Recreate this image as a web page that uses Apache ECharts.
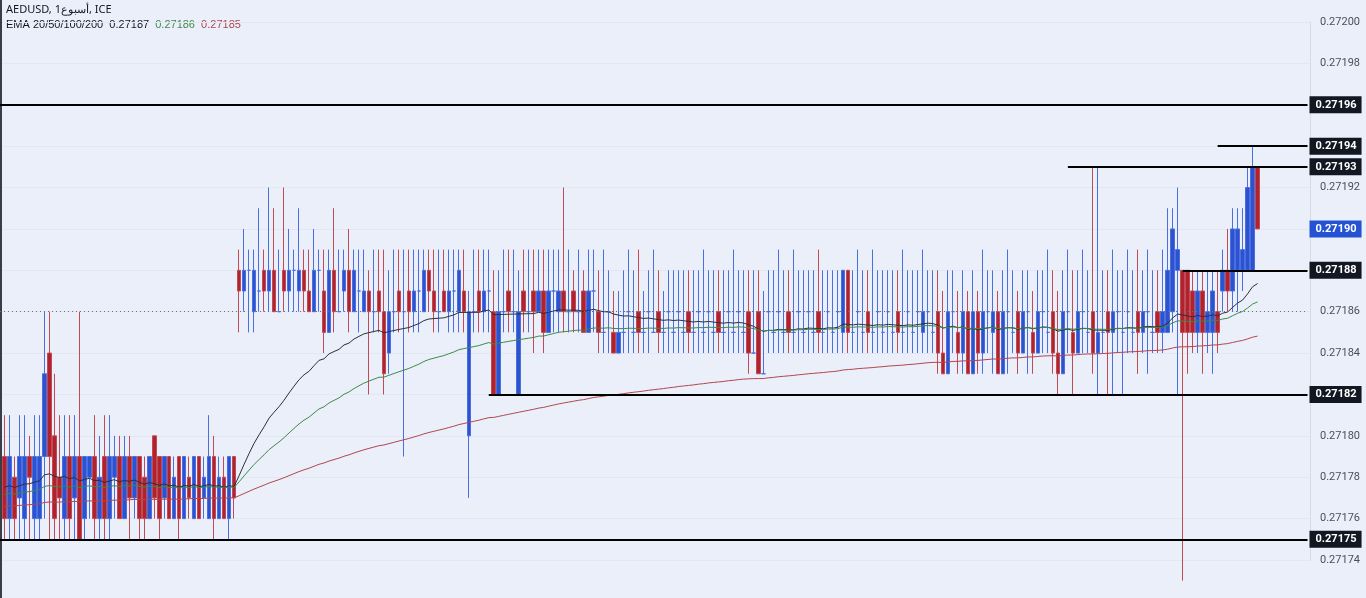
<!DOCTYPE html>
<html><head><meta charset="utf-8">
<script src="https://cdn.jsdelivr.net/npm/echarts@6/dist/echarts.min.js"></script>
<style>html,body{margin:0;padding:0;background:#eaeff9}#c{width:1366px;height:598px}</style>
</head><body><div id="c"></div>
<script>
// candles as [open, close, low, high] in units of 0.00001 above 0.27170
const candleOffsets = [
[9,6,5,11],[6,9,5,11],[8,6,5,9],[7,9,5,11],[6,9,5,11],[9,8,5,10],[6,9,5,11],[6,9,5,11],[9,13,6,16],[14,9,5,16],
[10,6,5,13],[8,7,5,11],[6,9,5,11],[9,6,5,11],[7,9,5,11],[9,5,5,16],[6,9,5,9],[8,9,6,9],[9,6,5,11],[6,8,5,10],
[9,6,5,11],[6,9,5,11],[8,9,6,10],[9,6,6,10],[6,9,6,10],[9,7,5,10],[7,9,6,9],[9,6,5,9],[8,6,5,9],[6,9,6,9],
[10,7,6,10],[9,6,5,9],[7,9,6,9],[9,6,6,9],[6,8,6,9],[9,6,5,9],[6,9,6,9],[8,7,6,9],[6,9,6,9],[9,6,6,9],
[7,8,6,9],[6,9,6,11],[9,6,5,10],[6,8,6,9],[8,6,6,9],[6,9,5,9],[9,7,6,9],
[18,17,15,19],[17,18,16,20],[18,18,15,19],[16,18,15,19],[17,17,16,21],[18,17,16,19],[17,18,16,22],[18,16,16,21],[16,16,16,19],[18,17,16,22],
[17,18,16,20],[18,18,16,19],[17,18,16,21],[18,17,16,19],[17,16,16,19],[16,18,16,20],[18,18,16,19],[17,15,14,19],[15,18,15,19],[18,16,15,21],
[16,16,16,19],[17,18,16,19],[18,16,15,20],[16,18,16,19],[17,17,15,19],[16,17,16,19],[17,16,12,18],[16,16,15,19],[17,16,15,19],[16,13,12,19],
[14,16,13,18],[16,16,15,19],[17,16,15,19],[16,16,9,19],[17,16,15,19],[16,17,15,19],[17,17,15,19],[16,18,16,19],[18,17,16,19],[17,16,15,19],
[16,16,15,19],[17,16,16,19],[16,17,15,19],[17,17,15,19],[16,18,15,19],[17,16,15,19],[10,16,7,17],
[16,16,15,19],[17,16,15,19],[16,17,15,19],[17,17,15,19],[16,12,12,18],[12,16,12,18],[16,16,15,19],[17,16,15,19],[16,16,15,19],[12,16,12,18],
[17,16,15,19],[16,16,15,19],[17,16,14,19],[16,17,16,19],[17,15,14,19],[15,17,15,19],[17,17,15,19],[16,17,15,19],[17,16,15,22],[16,16,15,19],
[17,16,15,18],[16,16,15,19],[17,15,15,18],[15,17,15,19],[17,17,15,19],[16,15,14,18],[15,15,14,19],[16,16,14,18],[15,14,14,17],[14,15,14,17],
[15,15,14,18],[16,16,14,19],[15,15,14,18],[16,15,14,19],[15,15,14,17],[16,16,14,18],[15,15,15,19],[16,15,14,18],[15,15,14,17],[16,16,14,18],
[15,15,14,18],[16,16,14,18],[15,15,14,18],[16,15,14,18],[15,15,14,18],[16,16,14,18],[15,15,14,19],[16,16,14,18],[15,15,14,18],[16,15,14,18],
[15,15,14,18],[16,16,14,18],[15,15,14,19],[16,16,14,18],[15,15,14,18],[16,14,13,18],[14,14,14,18],[16,13,13,18],[13,13,13,17],[16,16,14,18],
[15,15,14,18],[16,16,14,19],[15,15,14,18],[16,15,14,18],[15,15,14,19],[16,16,14,18],[15,15,14,18],[16,16,14,18],[15,15,14,18],[16,15,14,19],
[15,15,14,18],[16,16,14,18],[15,15,14,18],[16,16,14,18],[15,18,14,18],[18,15,14,18],[15,15,14,18],[16,16,14,19],[15,15,14,18],[16,15,14,18],
[15,15,14,19],[16,16,14,18],[15,15,14,18],[16,16,14,18],[15,15,14,18],[16,15,14,18],[15,15,14,19],[16,16,14,18],[15,15,14,18],[16,16,14,18],
[15,16,14,19],[16,16,14,18],[15,15,14,18],[16,14,13,18],[14,13,13,17],[13,16,13,18],[16,16,14,18],[15,14,13,17],[14,16,13,18],[16,13,13,17],
[13,16,13,18],[16,14,13,17],[14,16,13,19],[16,16,14,18],[15,16,13,18],[16,13,13,17],[13,16,13,18],[16,16,13,19],[15,15,14,18],[16,14,13,17],
[14,16,14,18],[16,16,13,18],[15,14,13,17],[14,16,14,18],[16,16,14,18],[15,15,14,19],[16,14,13,18],[14,13,12,17],[13,16,13,18],[16,16,14,19],
[15,14,12,18],[14,16,14,18],[16,16,14,19],[15,15,14,18],[16,14,13,23],[14,15,12,23],[15,15,14,18],[16,15,12,18],[15,16,12,19],[16,16,14,18],
[15,15,12,18],[16,16,14,19],[15,15,14,18],[16,15,13,19],[15,16,14,18],[16,16,13,19],[15,15,14,18],[16,15,14,18],[15,16,14,19],
[15,18,15,21],[16,20,15,21],[18,19,12,22],[18,15,3,18],[18,15,13,18],[17,15,14,18],[15,17,14,18],[17,15,13,18],[15,16,14,18],[15,17,13,18],
[16,15,14,18],[17,18,16,19],[18,17,16,20],[17,20,16,21],[18,20,16,21],[18,19,17,21],[18,22,18,23],[18,23,18,24],[23,20,20,23]
];
const emptyTail = 10;
const levels = [
  {v:0.27196, from:null}, {v:0.27194, from:243}, {v:0.27193, from:213},
  {v:0.27188, from:236}, {v:0.27182, from:97}, {v:0.27175, from:null}
];
const lastPrice = 0.27190, dottedLevel = 0.27186;
const emaPeriods = [35, 70, 200];
const emaSeeds = [0.271776, 0.271772, 0.271766];

const base = 0.27170, unit = 0.00001;
const n = candleOffsets.length, total = n + emptyTail;
const cats = Array.from({length: total}, (_, i) => String(i));
const ohlc = candleOffsets.map(r => [base + r[0]*unit, base + r[1]*unit, base + r[2]*unit, base + r[3]*unit]);
const closes = ohlc.map(r => r[1]);
function ema(p, seed) {
  const k = 2/(p+1); let e = seed;
  return closes.map(c => (e = c*k + e*(1-k)));
}
const upStyle = {color:'#2c52cf', borderColor:'#4a6fe0'};
const dnStyle = {color:'#b0232d', borderColor:'#c04a55'};
const data = ohlc.map(r => ({value:r, itemStyle: r[1] >= r[0] ? upStyle : dnStyle}));

const boxLab = (txt, bg) => ({show:true, position:'end', formatter: txt, color:'#fff', backgroundColor:bg,
    padding:[3,5,3,6], fontSize:11, fontWeight:'bold', fontFamily:'Roboto', distance:2});
const mlData = [];
levels.forEach(l => {
  const start = l.from === null ? {x:0, yAxis:l.v} : {coord:[l.from, l.v]};
  start.label = boxLab(l.v.toFixed(5), '#131722');
  mlData.push([start, {coord:[total-1, l.v]}]);
});
mlData.push([{x:0, yAxis:dottedLevel, lineStyle:{type:[1,3], color:'#6b7079', width:1}, label:{show:false}}, {coord:[total-1, dottedLevel]}]);
mlData.push([{coord:[total-2, lastPrice], lineStyle:{color:'rgba(0,0,0,0)', width:1}, label:boxLab(lastPrice.toFixed(5), '#2452d3')}, {coord:[total-1, lastPrice]}]);

const chart = echarts.init(document.getElementById('c'));
chart.setOption({
  backgroundColor:'#eaeff9',
  animation:false,
  grid:{left:2, right:56, top:22, bottom:38},
  xAxis:{type:'category', data:cats, boundaryGap:true, axisLine:{show:false}, axisTick:{show:false}, axisLabel:{show:false},
    splitLine:{show:false}},
  yAxis:{type:'value', position:'right', min:0.27174, max:0.27200, interval:0.00002,
    axisLine:{show:true, lineStyle:{color:'#d6dbe4'}}, axisTick:{show:false},
    axisLabel:{formatter:v => v.toFixed(5), color:'#4a4f58', fontSize:11, fontFamily:'Roboto', margin:10},
    splitLine:{lineStyle:{color:'#e2e7f2'}}},
  series:[
    {type:'candlestick', data:data, barWidth:4, clip:false,
      markLine:{symbol:'none', silent:true, animation:false, lineStyle:{color:'#000', width:2, type:'solid'}, data:mlData}},
    {type:'line', data:ema(emaPeriods[0], emaSeeds[0]), symbol:'none', lineStyle:{color:'#2d2f36', width:1}},
    {type:'line', data:ema(emaPeriods[1], emaSeeds[1]), symbol:'none', lineStyle:{color:'#3f8a4a', width:1}},
    {type:'line', data:ema(emaPeriods[2], emaSeeds[2]), symbol:'none', lineStyle:{color:'#b2464f', width:1}}
  ],
  graphic:[
    {type:'rect', left:0, top:0, shape:{width:2, height:598}, style:{fill:'#3a3d44'}},
    {type:'text', left:6, top:4, style:{text:'AEDUSD, 1أسبوع, ICE', fontSize:11, fill:'#131722', fontFamily:'Noto Sans'}},
    {type:'text', left:6, top:19, style:{text:'{a|EMA 20/50/100/200  0.27187  }{b|0.27186  }{c|0.27185}',
      fontFamily:'Noto Sans', rich:{a:{fontSize:11, fill:'#131722'}, b:{fontSize:11, fill:'#3f8a4a'}, c:{fontSize:11, fill:'#b2464f'}}}}
  ]
});
</script></body></html>
